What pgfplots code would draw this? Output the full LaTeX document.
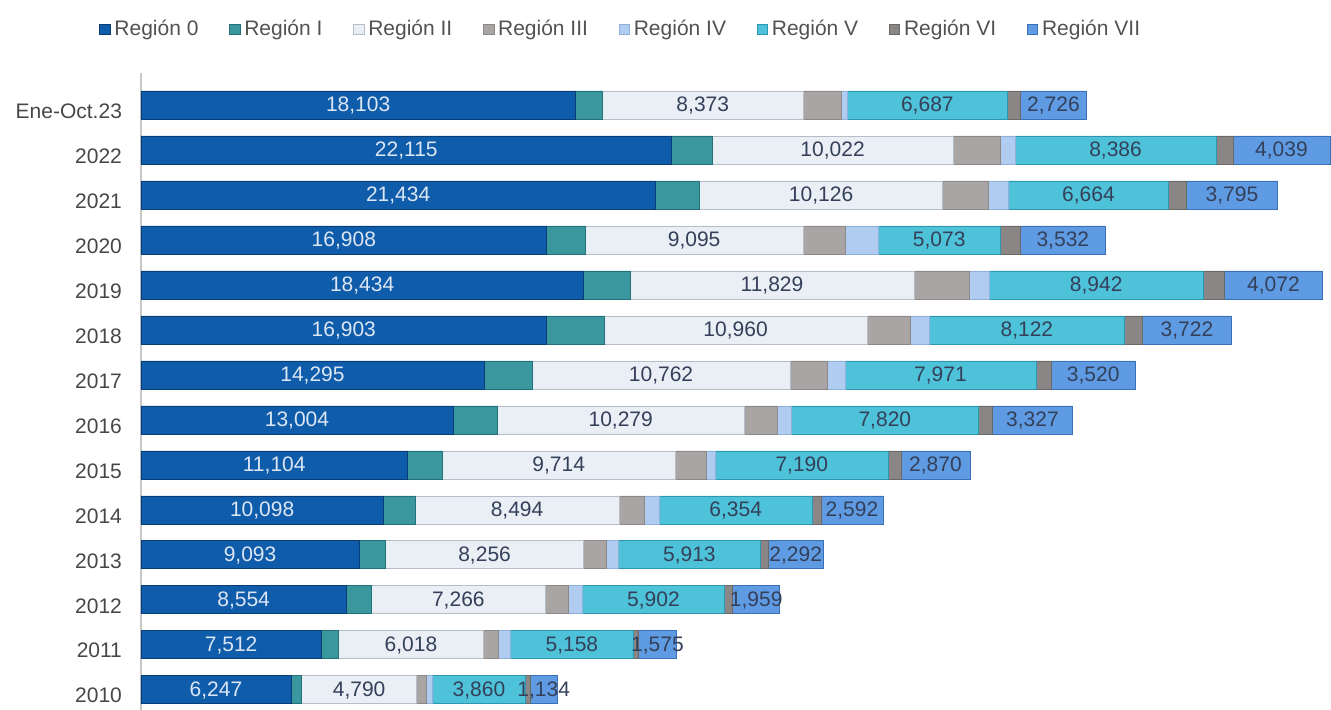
\documentclass[border=0pt]{standalone}
\usepackage{pgfplots}
\pgfplotsset{compat=1.18}
\usepackage{pgfplotstable}
\usepackage{fontspec}
\setmainfont{Liberation Sans}
\definecolor{m0}{HTML}{0F5CAA}\definecolor{e0}{HTML}{0B3D75}
\definecolor{m1}{HTML}{3A979E}\definecolor{e1}{HTML}{23727A}
\definecolor{m2}{HTML}{E9EFF5}\definecolor{e2}{HTML}{B5BEC8}
\definecolor{m3}{HTML}{A9A5A5}\definecolor{e3}{HTML}{8C8888}
\definecolor{m4}{HTML}{B0CCF0}\definecolor{e4}{HTML}{8FB0DA}
\definecolor{m5}{HTML}{4EC2D8}\definecolor{e5}{HTML}{2E96AE}
\definecolor{m6}{HTML}{8A8686}\definecolor{e6}{HTML}{6B6868}
\definecolor{m7}{HTML}{5F9BE2}\definecolor{e7}{HTML}{3B6FB8}
\definecolor{lbldark}{HTML}{34405A}
\definecolor{lbllight}{HTML}{DCE6F4}
\pgfplotstableread{
y r0 r1 r2 r3 r4 r5 r6 r7
0 6247 450 4790 420 250 3860 200 1134
1 7512 730 6018 620 500 5158 200 1575
2 8554 1040 7266 950 600 5902 350 1959
3 9093 1100 8256 950 500 5913 330 2292
4 10098 1330 8494 1040 650 6354 370 2592
5 11104 1450 9714 1280 400 7190 540 2870
6 13004 1850 10279 1400 560 7820 580 3327
7 14295 2000 10762 1550 730 7971 620 3520
8 16903 2400 10960 1800 800 8122 750 3722
9 18434 1950 11829 2300 830 8942 880 4072
10 16908 1600 9095 1750 1380 5073 850 3532
11 21434 1850 10126 1900 850 6664 750 3795
12 22115 1700 10022 1990 600 8386 700 4039
13 18103 1125 8373 1600 230 6687 550 2726
}\datatable
\pgfplotsset{
  bsh/.style n args={2}{fill=#1, draw=#2, line width=0.3pt},
  lbl/.style={nodes near coords, point meta=explicit,
     every node near coord/.append style={anchor=center, text=#1,
        font=\fontsize{10.5}{12}\selectfont, yshift=-0.2pt}},
}
\begin{document}
\begin{tikzpicture}
\path[use as bounding box] (-70.5pt,0pt) rectangle (595pt,355pt);
\begin{axis}[
  at={(0pt,0pt)}, anchor=south west,
  scale only axis, width=595pt, height=318.5pt,
  xbar stacked, bar width=14pt,
  xmin=0, xmax=49600, ymin=-0.45, ymax=13.71,
  axis x line=none, axis y line*=left,
  y axis line style={draw=black!22, line width=0.6pt},
  ytick={0,...,13},
  yticklabels={2010,2011,2012,2013,2014,2015,2016,2017,2018,2019,2020,2021,2022,Ene-Oct.23},
  major tick length=0pt,
  yticklabel style={font=\fontsize{10.5}{12}\selectfont, text=black!72, xshift=-6pt, yshift=-3pt},
  /pgf/number format/.cd, 1000 sep={,}, assume math mode=true, fixed, precision=0, /pgfplots/.cd,
  legend columns=8,
  legend style={at={(0.404,1.069)}, anchor=center, draw=none, fill=none,
     font=\fontsize{10.5}{12}\selectfont, text=black!68,
     /tikz/every even column/.append style={column sep=13.4pt}},
  legend image code/.code={\fill[#1] (0pt,-2.6pt) rectangle (5.2pt,2.6pt);},
]
\addplot[bsh={m0}{e0}, lbl=lbllight] table[x=r0, y=y, meta=r0] {\datatable};
\addplot[bsh={m1}{e1}] table[x=r1, y=y] {\datatable};
\addplot[bsh={m2}{e2}, lbl=lbldark] table[x=r2, y=y, meta=r2] {\datatable};
\addplot[bsh={m3}{e3}] table[x=r3, y=y] {\datatable};
\addplot[bsh={m4}{e4}] table[x=r4, y=y] {\datatable};
\addplot[bsh={m5}{e5}, lbl=lbldark] table[x=r5, y=y, meta=r5] {\datatable};
\addplot[bsh={m6}{e6}] table[x=r6, y=y] {\datatable};
\addplot[bsh={m7}{e7}, lbl=lbldark] table[x=r7, y=y, meta=r7] {\datatable};
\legend{Región 0,Región I,Región II,Región III,Región IV,Región V,Región VI,Región VII}
\end{axis}
\end{tikzpicture}
\end{document}
